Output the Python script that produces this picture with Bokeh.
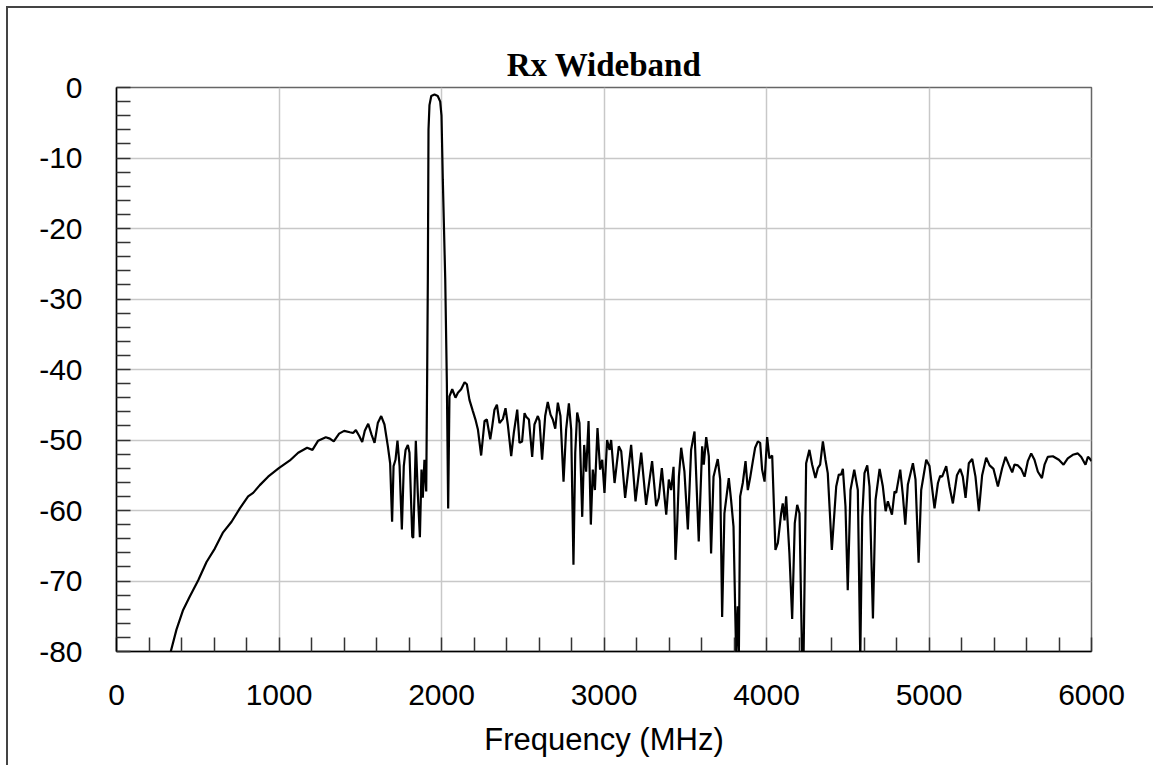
from bokeh.plotting import figure
from bokeh.models import Range1d, SingleIntervalTicker, ColumnDataSource, PrintfTickFormatter
from bokeh.embed import file_html
from bokeh.resources import INLINE

freq_mhz = [300, 334, 369, 410, 451, 503, 554, 605, 656, 708, 759, 810, 841, 882, 933, 999,
            1067, 1118, 1173, 1206, 1241, 1288, 1313, 1337, 1370, 1401, 1436, 1456, 1473, 1493,
            1512, 1528, 1549, 1569, 1588, 1608, 1629, 1649, 1670, 1684, 1696, 1705, 1717, 1729,
            1742, 1756, 1768, 1779, 1793, 1803, 1820, 1826, 1834, 1842, 1854, 1867, 1877, 1885,
            1895, 1906, 1912, 1916, 1920, 1926, 1937, 1957, 1977, 1992, 2000, 2008, 2023, 2033,
            2041, 2049, 2066, 2086, 2101, 2121, 2142, 2156, 2172, 2193, 2209, 2224, 2244, 2265,
            2279, 2300, 2312, 2326, 2341, 2357, 2378, 2394, 2408, 2429, 2445, 2466, 2480, 2496,
            2511, 2521, 2538, 2558, 2572, 2593, 2603, 2619, 2638, 2654, 2671, 2685, 2700, 2716,
            2732, 2751, 2767, 2784, 2798, 2812, 2823, 2835, 2849, 2866, 2878, 2890, 2905, 2919,
            2931, 2944, 2960, 2976, 2989, 3003, 3019, 3034, 3044, 3065, 3091, 3106, 3130, 3167,
            3194, 3229, 3259, 3296, 3321, 3337, 3356, 3372, 3383, 3399, 3413, 3428, 3440, 3450,
            3461, 3475, 3495, 3516, 3536, 3557, 3583, 3604, 3614, 3629, 3645, 3659, 3674, 3700,
            3715, 3727, 3741, 3768, 3782, 3797, 3813, 3823, 3830, 3838, 3854, 3871, 3885, 3899,
            3916, 3930, 3947, 3961, 3973, 3988, 4004, 4018, 4035, 4055, 4070, 4090, 4100, 4111,
            4121, 4141, 4158, 4174, 4189, 4203, 4219, 4228, 4244, 4264, 4281, 4301, 4316, 4330,
            4347, 4363, 4377, 4402, 4429, 4445, 4459, 4470, 4486, 4500, 4517, 4540, 4562, 4577,
            4589, 4603, 4620, 4634, 4655, 4671, 4696, 4716, 4733, 4747, 4772, 4788, 4798, 4823,
            4839, 4854, 4870, 4901, 4917, 4936, 4952, 4983, 5003, 5034, 5055, 5069, 5081, 5106,
            5126, 5147, 5172, 5192, 5208, 5225, 5245, 5266, 5286, 5307, 5327, 5352, 5373, 5397,
            5424, 5450, 5471, 5491, 5512, 5526, 5547, 5567, 5588, 5608, 5629, 5649, 5670, 5695,
            5711, 5731, 5762, 5799, 5828, 5854, 5885, 5916, 5937, 5963, 5978, 5988, 6000]

gain_db = [-82.0, -80.0, -76.9, -74.1, -72.2, -69.9, -67.3, -65.4, -63.1, -61.6, -59.7, -58.0, -57.5, -56.4, -55.2, -54.0,
           -52.9, -51.8, -51.1, -51.4, -50.1, -49.6, -49.8, -50.2, -49.1, -48.7, -48.9, -49.0, -48.6, -49.4,
           -50.3, -48.7, -47.7, -49.2, -50.4, -47.6, -46.6, -47.8, -50.9, -53.3, -61.6, -53.7, -52.8, -50.1,
           -53.7, -62.7, -53.7, -51.4, -50.7, -51.8, -63.7, -63.9, -57.5, -50.1, -57.5, -63.8, -54.2, -58.2,
           -52.8, -57.3, -40.0, -27.0, -6.0, -2.5, -1.2, -1.0, -1.2, -2.0, -4.0, -13.0, -27.2, -42.0,
           -59.7, -43.8, -42.8, -44.0, -43.3, -42.8, -41.8, -42.1, -44.3, -45.9, -47.1, -48.5, -52.2, -47.3,
           -47.1, -49.9, -48.1, -45.7, -45.0, -47.6, -47.0, -45.5, -47.8, -52.3, -49.0, -45.7, -50.4, -50.2,
           -46.2, -46.7, -47.1, -52.4, -47.8, -46.6, -47.3, -52.8, -46.6, -44.6, -46.4, -47.1, -48.4, -44.7,
           -46.6, -55.9, -48.5, -44.8, -48.5, -67.7, -51.8, -46.1, -47.6, -60.9, -50.7, -54.5, -47.3, -62.0,
           -54.2, -57.1, -48.3, -54.2, -52.8, -57.5, -50.0, -51.4, -50.0, -56.1, -50.9, -51.6, -58.2, -50.7,
           -58.7, -51.8, -59.2, -53.0, -59.4, -58.2, -54.0, -58.0, -60.6, -55.6, -57.1, -53.8, -67.0, -62.2,
           -55.2, -51.1, -54.5, -62.7, -51.4, -48.8, -64.4, -50.9, -53.5, -49.6, -52.3, -66.1, -55.2, -52.7,
           -55.6, -75.1, -60.4, -55.4, -58.5, -62.3, -80.5, -73.6, -80.5, -58.0, -56.1, -53.0, -57.1, -55.4,
           -53.0, -51.1, -50.2, -50.4, -54.2, -55.9, -49.6, -52.6, -52.2, -65.6, -64.6, -60.4, -59.0, -61.4,
           -58.0, -66.1, -75.4, -61.8, -59.2, -60.4, -81.0, -81.0, -53.3, -51.4, -53.5, -55.4, -54.0, -53.5,
           -50.2, -52.8, -54.7, -65.6, -56.6, -54.9, -54.9, -54.1, -59.4, -71.3, -57.1, -54.2, -57.1, -81.0,
           -60.9, -54.7, -53.6, -56.6, -75.3, -58.5, -54.1, -56.6, -60.1, -58.7, -60.6, -57.3, -57.5, -54.2,
           -57.8, -62.0, -56.3, -53.3, -55.6, -67.4, -57.1, -52.8, -53.7, -59.7, -56.1, -55.1, -55.2, -53.7,
           -56.6, -59.0, -55.0, -54.1, -55.2, -58.2, -53.3, -52.7, -55.2, -60.1, -55.0, -52.5, -53.6, -54.1,
           -56.6, -54.0, -52.4, -53.5, -54.6, -53.5, -53.6, -54.1, -55.2, -53.0, -51.9, -52.8, -54.5, -55.4,
           -53.5, -52.4, -52.3, -52.8, -53.5, -52.6, -52.1, -51.9, -52.4, -53.5, -52.4, -52.6, -53.0]

title_text = "Rx Wideband"
x_label = "Frequency (MHz)"

source = ColumnDataSource(data=dict(f=freq_mhz, g=gain_db))

p = figure(width=1147, height=759, output_backend="svg", toolbar_location=None,
           x_range=Range1d(0, 6000), y_range=Range1d(-80, 0),
           min_border_left=108, min_border_right=64, min_border_top=79, min_border_bottom=116)
p.styles = {"border-left": "2px solid #444", "border-top": "2px solid #444",
            "margin-left": "6px", "margin-top": "6px"}

p.title.text = title_text
p.title.align = "center"
p.title.text_font = "Liberation Serif"
p.title.text_font_style = "bold"
p.title.text_font_size = "33px"
p.title.text_color = "black"
p.title.standoff = 9

p.line("f", "g", source=source, line_color="black", line_width=2.2)

p.xaxis.ticker = SingleIntervalTicker(interval=1000, num_minor_ticks=5)
p.yaxis.ticker = SingleIntervalTicker(interval=10, num_minor_ticks=5)
p.xaxis.formatter = PrintfTickFormatter(format="%d")
p.yaxis.formatter = PrintfTickFormatter(format="%d")
p.xaxis.axis_label = x_label
for ax in (p.xaxis, p.yaxis):
    ax.major_tick_in = 0
    ax.major_tick_out = 0
    ax.minor_tick_in = 14
    ax.minor_tick_out = 0
    ax.minor_tick_line_color = "#333333"
    ax.minor_tick_line_width = 1.5
    ax.axis_line_color = "black"
    ax.axis_line_width = 1.5
    ax.major_label_text_font = "Liberation Sans"
    ax.major_label_text_font_size = "30px"
    ax.major_label_text_color = "black"
p.xaxis.major_label_standoff = 33
p.yaxis.major_label_standoff = 34
p.xaxis.axis_label_text_font = "Liberation Sans"
p.xaxis.axis_label_text_font_size = "31px"
p.xaxis.axis_label_text_font_style = "normal"
p.xaxis.axis_label_text_color = "black"
p.xaxis.axis_label_standoff = 14

p.xgrid.grid_line_color = "#c8c8c8"
p.ygrid.grid_line_color = "#c8c8c8"
p.xgrid.grid_line_width = 1.5
p.ygrid.grid_line_width = 1.5
p.outline_line_color = "#666666"
p.outline_line_width = 1.5
p.background_fill_color = "white"
p.border_fill_color = "white"

open("out.html", "w").write(file_html(p, INLINE))
